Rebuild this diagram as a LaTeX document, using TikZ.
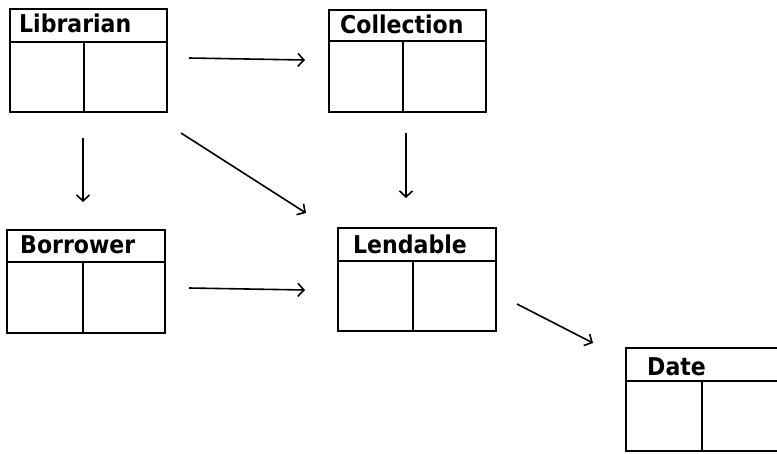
\documentclass[tikz,border=0pt]{standalone}
\usepackage{fontspec}
\setmainfont{DejaVu Sans}
\newfontfamily\titlefont{DejaVu Sans Condensed}
\usetikzlibrary{calc,arrows.meta}
\tikzset{
  classbox/.style={draw=black, line width=2pt, inner sep=0pt, outer sep=0pt, minimum width=157pt, minimum height=103pt, anchor=north west},
  part/.style={draw=black, line width=2pt},
  title/.style={anchor=base west, inner sep=0pt, font=\titlefont\fontsize{24.5}{28}\selectfont\bfseries},
  arr/.style={draw=black, line width=1.6pt, -{Straight Barb[length=6pt,width=13pt,line width=1.6pt]}}
}
\begin{document}
\begin{tikzpicture}[x=1pt,y=-1pt]
\useasboundingbox[fill=white] (0,0) rectangle (777,453);
% boxes
\node[classbox] (lib) at (10,9) {};
\node[classbox, minimum width=157pt, minimum height=102pt] (col) at (329,10) {};
\node[classbox, minimum width=158pt] (bor) at (7,230) {};
\node[classbox, minimum width=158pt] (len) at (338,228) {};
\node[classbox, minimum width=158pt] (date) at (626,348) {};
% header lines and dividers
\draw[part] ($(lib.north west)+(0,33)$) -- ($(lib.north east)+(0,33)$);
\draw[part] ($(lib.north west)+(74,33)$) -- ($(lib.south west)+(74,0)$);
\draw[part] ($(col.north west)+(0,31)$) -- ($(col.north east)+(0,31)$);
\draw[part] ($(col.north west)+(74,31)$) -- ($(col.south west)+(74,0)$);
\draw[part] ($(bor.north west)+(0,32)$) -- ($(bor.north east)+(0,32)$);
\draw[part] ($(bor.north west)+(76,32)$) -- ($(bor.south west)+(76,0)$);
\draw[part] ($(len.north west)+(0,33)$) -- ($(len.north east)+(0,33)$);
\draw[part] ($(len.north west)+(75,33)$) -- ($(len.south west)+(75,0)$);
\draw[part] ($(date.north west)+(0,33)$) -- ($(date.north east)+(0,33)$);
\draw[part] ($(date.north west)+(76,33)$) -- ($(date.south west)+(76,0)$);
% titles
\node[title] (libt) at ([shift={(9,23)}]lib.north west) {Librarian};
\node[title] (colt) at ([shift={(11,23)}]col.north west) {Collection};
\node[title] (bort) at ([shift={(13,23)}]bor.north west) {Borrower};
\node[title] (lent) at ([shift={(15,25)}]len.north west) {Lendable};
\node[title] (datet) at ([shift={(21,27)}]date.north west) {Date};
% arrows
\draw[arr] ([shift={(22,-2.5)}]lib.east) -- ([shift={(-24,-1)}]col.west);
\draw[arr] ([shift={(-5.5,26)}]lib.south) -- ([shift={(-3,-28)}]bor.north);
\draw[arr] ([shift={(14,21)}]lib.south east) -- ([shift={(-32,-15)}]len.north west);
\draw[arr] ([shift={(-1.5,21)}]col.south) -- ([shift={(-11,-30)}]len.north);
\draw[arr] ([shift={(24,6.5)}]bor.east) -- ([shift={(-33,10.5)}]len.west);
\draw[arr] ([shift={(21,24.5)}]len.east) -- ([shift={(-33,-5)}]date.north west);
\end{tikzpicture}
\end{document}
